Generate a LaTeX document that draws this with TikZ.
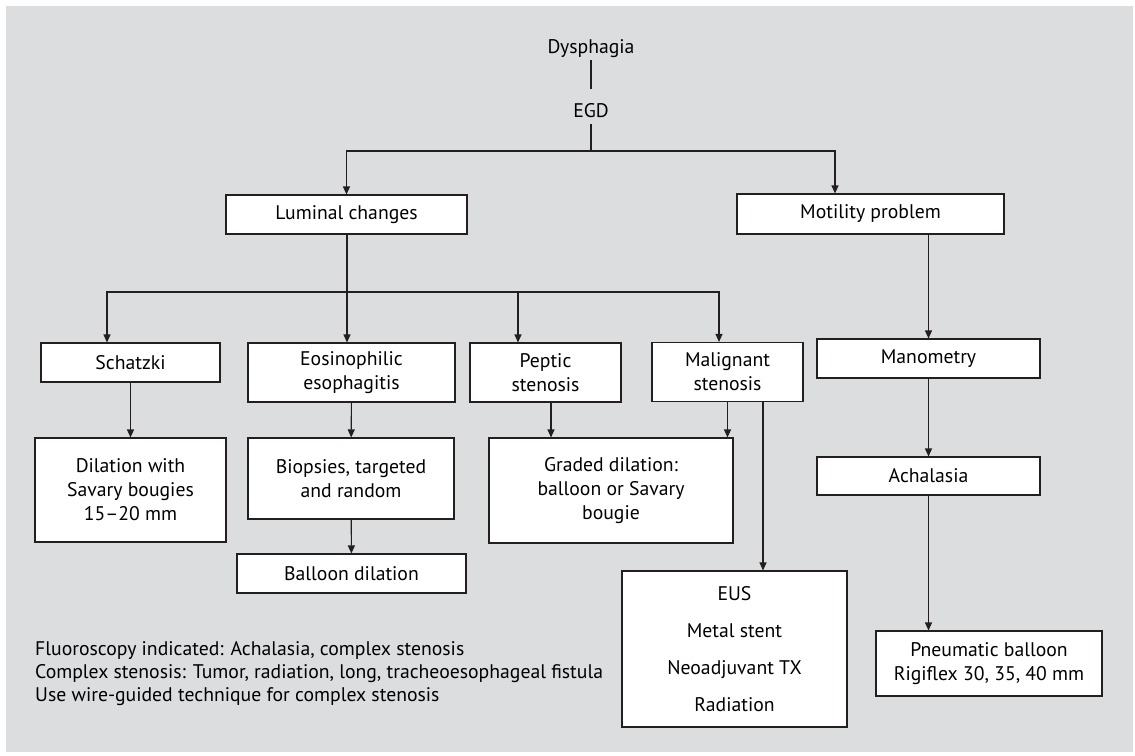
\documentclass[tikz,border=0pt]{standalone}
\usepackage{fontspec}
\setmainfont{PT Sans}
\definecolor{fcBack}{RGB}{220, 221, 223}
\definecolor{fcLine}{RGB}{35, 31, 32}
\usetikzlibrary{arrows.meta, positioning, calc}
\tikzset{
  flowbox/.style={rectangle, draw=fcLine, line width=1.1pt, fill=white, inner sep=0pt, minimum width=#1, align=center, font=\fontsize{19.7}{24}\selectfont},
  flowbox/.default=200pt,
  plain/.style={inner sep=2pt, text height=14pt, text depth=5pt, anchor=base, font=\fontsize{19.7}{24}\selectfont},
  link/.style={line width=1.1pt, fcLine},
  myarrow/.style={-{Triangle[length=8pt, width=7pt]}, line width=1.1pt, fcLine},
}
\begin{document}
\begin{tikzpicture}[x=1pt, y=-1pt]
  \useasboundingbox (0, 0) rectangle (1135, 755);
  \fill[fcBack] (6, 6) rectangle (1133, 752);

  % Start
  \node[plain] (dys) at (591, 53) {Dysphagia};
  \node[plain] (egd) at (591, 117) {EGD};

  % First split
  \node[flowbox=241pt, minimum height=39pt] (lum) at (346.5, 214.5) {Luminal changes};
  \node[flowbox=267pt, minimum height=40pt] (mot) at (870.5, 214) {Motility problem};

  % Luminal branches
  \node[flowbox=179pt, minimum height=39pt] (sch) at (130.5, 362.5) {Schatzki};
  \node[flowbox=207pt, minimum height=59pt] (eos) at (351.5, 372.5) {Eosinophilic\\esophagitis};
  \node[flowbox=151pt, minimum height=59pt] (pep) at (545.5, 372.5) {Peptic\\stenosis};
  \node[flowbox=151pt, minimum height=59pt] (mal) at (727.5, 372) {Malignant\\stenosis};

  % Treatments
  \node[flowbox=191pt, minimum height=104pt] (dil) at (130.5, 490) {Dilation with\\Savary bougies\\15--20 mm};
  \node[flowbox=206pt, minimum height=81pt] (bio) at (351, 478.5) {Biopsies, targeted\\and random};
  \node[flowbox=229pt, minimum height=39pt] (bal) at (351.5, 573.5) {Balloon dilation};
  \node[flowbox=244pt, minimum height=105pt] (grd) at (611, 490.5) {Graded dilation:\\balloon or Savary\\bougie};
  \node[flowbox=225pt, minimum height=156pt, font=\fontsize{19.7}{37}\selectfont] (eus) at (734.5, 649) {EUS\\Metal stent\\Neoadjuvant TX\\Radiation};

  % Motility branch
  \node[flowbox=223pt, minimum height=39pt] (man) at (928.5, 358.5) {Manometry};
  \node[flowbox=223pt, minimum height=38pt] (ach) at (928.5, 476) {Achalasia};
  \node[flowbox=226pt, minimum height=65pt] (pne) at (989, 663.5) {Pneumatic balloon\\Rigiflex 30, 35, 40 mm};

  % Notes
  \node[anchor=north west, inner sep=0pt, align=left, font=\fontsize{19.7}{23}\selectfont] (notes) at (35, 641) {Fluoroscopy indicated: Achalasia, complex stenosis\\Complex stenosis: Tumor, radiation, long, tracheoesophageal fistula\\Use wire-guided technique for complex stenosis};

  % Junctions
  \coordinate (j1) at (591, 151);
  \coordinate (j2) at (347, 292);

  % Arrows
  \draw[link, shorten >=12pt] (dys) -- (egd);
  \draw[link] (egd) -- (j1);
  \draw[myarrow] (j1) -| (lum.north);
  \draw[myarrow] (j1) -| ([xshift=-35.5pt]mot.north);
  \draw[link] (lum.south -| j2) -- (j2);
  \draw[myarrow] (j2) -- (j2 |- eos.north);
  \draw[myarrow] (j2) -| ([xshift=-23.5pt]sch.north);
  \draw[myarrow] (j2) -| ([xshift=-27.5pt]pep.north);
  \draw[myarrow] (j2) -| ([xshift=-8.5pt]mal.north);
  \draw[myarrow] (sch) -- (dil);
  \draw[myarrow] (eos) -- (bio);
  \draw[myarrow] (bio) -- (bal);
  \draw[myarrow] ([xshift=5.5pt]pep.south) -- ([xshift=5.5pt]pep.south |- grd.north);
  \draw[myarrow] (mal.south) -- (mal.south |- grd.north);
  \draw[myarrow] ([xshift=35.5pt]mal.south) -- ([xshift=35.5pt]mal.south |- eus.north);
  \draw[myarrow] (man.north |- mot.south) -- (man.north);
  \draw[myarrow] (man) -- (ach);
  \draw[myarrow] (ach.south) -- (ach.south |- pne.north);
\end{tikzpicture}
\end{document}
